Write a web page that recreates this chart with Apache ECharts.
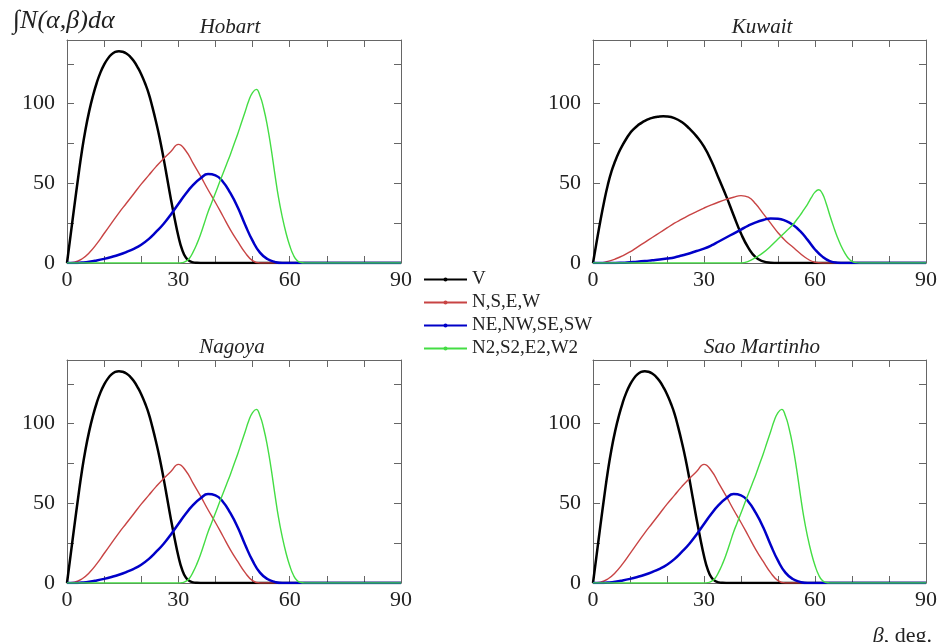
<!DOCTYPE html>
<html>
<head>
<meta charset="utf-8">
<script src="https://cdn.jsdelivr.net/npm/echarts@6/dist/echarts.min.js"></script>
<style>
  html, body { margin: 0; padding: 0; background: #ffffff; }
  #chart { width: 940px; height: 642px; }
</style>
</head>
<body>
<div id="chart"></div>
<script>
// Integrated distribution over beta (degrees), pairs of [beta, value]
const hobartV = [[0,0],[1,18],[2,36],[3,53.5],[4,70],[5,84],[6,95.5],[7,105],[8,113],[9,119.5],[10,124.5],[11,128.3],[12,131],[13,132.5],[14,133],[15,132.6],[16,131.5],[17,129.6],[18,126.8],[19,123],[20,118.5],[21,113],[22,106.5],[23,98],[24,88.5],[25,78],[26,66],[27,53],[28,40],[29,28],[30,17],[31,8.5],[32,3.5],[33,1.3],[34,0.4],[35,0.1],[36,0],[37,0],[90,0]];
const hobartNSEW = [[0,0],[2,0.5],[4,2.5],[6,6.5],[8,12],[10,18.5],[12,25],[14,31.5],[16,37.5],[18,43.5],[20,49.5],[22,55],[24,60.5],[26,65.5],[28,70],[30,74.5],[32,70.5],[34,62.5],[36,54.5],[38,46],[40,38],[42,29.5],[44,21],[46,13.5],[48,6.5],[50,1.5],[52,0],[54,0],[90,0]];
const hobartDiag = [[0,0],[2,0],[4,0.3],[6,0.8],[8,1.6],[10,2.6],[12,3.8],[14,5.2],[16,6.9],[18,8.9],[20,11.5],[22,15],[24,19.5],[26,24.5],[28,30.5],[30,37],[32,43.5],[34,49],[36,53.2],[38,55.8],[40,55],[42,51],[44,44],[46,35],[48,24],[50,14],[52,6.5],[54,2.5],[56,0.7],[58,0],[60,0],[90,0]];
const hobartN2 = [[0,0],[30,0],[31,0.2],[32,1],[33,3],[34,7],[35,12],[36,18],[37,25],[38,32],[39,38],[40,44],[41,50],[42,56],[43,62],[44,68],[45,74.5],[46,81],[47,88],[48,95],[49,102],[50,107],[51,109],[52,105],[53,97],[54,86],[55,72],[56,56],[57,41],[58,29],[59,19],[60,11],[61,5],[62,1.5],[63,0.3],[64,0],[66,0],[90,0]];

const kuwaitV = [[0,0],[1,13.5],[2,26.5],[3,38.5],[4,49],[5,57.5],[6,64],[7,69.5],[8,74],[9,78],[10,81.5],[11,84],[12,86.2],[13,87.8],[14,89.2],[15,90.3],[16,91.1],[17,91.6],[18,92],[19,92.1],[20,92],[22,91],[24,88.5],[26,84.5],[28,79.5],[30,73],[32,64],[34,53],[36,42],[38,30],[40,18.5],[42,9.5],[44,3.5],[46,1],[48,0.2],[50,0],[52,0],[90,0]];
const kuwaitNSEW = [[0,0],[2,0],[4,1],[6,2.5],[8,4.5],[10,7],[12,10],[14,13],[16,16],[18,19],[20,22],[22,25],[24,27.5],[26,30],[28,32.3],[30,34.5],[32,36.5],[34,38.3],[36,39.9],[38,41.3],[40,42.3],[42,41.3],[44,37],[46,31],[48,25],[50,19],[52,14],[54,10],[56,6],[58,2.5],[60,0.5],[62,0],[64,0],[90,0]];
const kuwaitDiag = [[0,0],[6,0],[8,0.2],[10,0.5],[12,0.8],[14,1.2],[16,1.7],[18,2.2],[20,2.8],[22,3.5],[24,4.7],[26,6],[28,7.5],[30,9],[32,11],[34,13.5],[36,16],[38,18.5],[40,21],[42,23.5],[44,25.5],[46,27],[48,28],[50,27.8],[52,26.5],[54,24],[56,20],[58,14.5],[60,8.5],[62,4],[64,1.2],[66,0.2],[68,0],[70,0],[90,0]];
const kuwaitN2 = [[0,0],[40,0],[42,1],[44,3.5],[46,6.5],[48,10.5],[50,15],[52,19.5],[54,24],[55,27],[56,30],[57,33.5],[58,37],[59,41],[60,44.5],[61,46],[62,43.5],[63,37.5],[64,30],[65,23],[66,16.5],[67,11],[68,6.5],[69,3],[70,1],[71,0.2],[72,0],[74,0],[90,0]];

const seriesNames = ['V', 'N,S,E,W', 'NE,NW,SE,SW', 'N2,S2,E2,W2'];
const siteNames = ['Hobart', 'Kuwait', 'Nagoya', 'Sao Martinho'];
// Hobart, Nagoya and Sao Martinho share the same distribution
const siteData = [
  [hobartV, hobartNSEW, hobartDiag, hobartN2],
  [kuwaitV, kuwaitNSEW, kuwaitDiag, kuwaitN2],
  [hobartV, hobartNSEW, hobartDiag, hobartN2],
  [hobartV, hobartNSEW, hobartDiag, hobartN2]
];
const xTicks = [0, 30, 60, 90];
const yTicks = [0, 50, 100];

// styling
const lineColors = ['#000000', '#c84444', '#0000c8', '#44dd44'];
const lineWidths = [2.5, 1.4, 2.5, 1.4];
const lineDots = ['none', 'circle', 'none', 'circle'];
const boxes = [
  { left: 67,  top: 40,  width: 334, height: 223, titleX: 225 },
  { left: 593, top: 40,  width: 335, height: 223, titleX: 757 },
  { left: 67,  top: 360, width: 334, height: 223, titleX: 227 },
  { left: 593, top: 360, width: 335, height: 223, titleX: 757 }
];
const serif = 'Liberation Serif';
const frame = '#666666';
const ink = '#222222';

const grid = [], xAxis = [], yAxis = [], series = [], title = [];

boxes.forEach((b, i) => {
  grid.push({ left: b.left, top: b.top, width: b.width, height: b.height, containLabel: false });
  const tick = { show: true, inside: true, length: 7, lineStyle: { color: frame, width: 1 } };
  const line = { show: true, onZero: false, lineStyle: { color: frame, width: 1 } };
  const xBase = { type: 'value', gridIndex: i, min: 0, max: 90, interval: 10,
    axisLine: line, axisTick: tick, splitLine: { show: false } };
  const yBase = { type: 'value', gridIndex: i, min: 0, max: 140, interval: 25,
    axisLine: line, axisTick: tick, splitLine: { show: false } };
  xAxis.push(Object.assign({}, xBase, { position: 'bottom',
    axisLabel: { show: true, margin: 6, fontFamily: serif, fontSize: 22, color: ink,
      formatter: v => xTicks.includes(v) ? String(v) : '' } }));
  xAxis.push(Object.assign({}, xBase, { position: 'top', axisLabel: { show: false } }));
  yAxis.push(Object.assign({}, yBase, { position: 'left',
    axisLabel: { show: true, margin: 12, fontFamily: serif, fontSize: 22, color: ink,
      formatter: v => yTicks.includes(v) ? String(v) : '' } }));
  yAxis.push(Object.assign({}, yBase, { position: 'right', axisLabel: { show: false } }));

  siteData[i].forEach((pts, k) => {
    series.push({
      name: seriesNames[k], type: 'line',
      xAxisIndex: 2 * i, yAxisIndex: 2 * i,
      data: pts, smooth: 0.5,
      symbol: lineDots[k], symbolSize: 4, showSymbol: false,
      lineStyle: { color: lineColors[k], width: lineWidths[k] },
      itemStyle: { color: lineColors[k] },
      emphasis: { disabled: true }, silent: true
    });
  });

  title.push({
    text: siteNames[i], left: b.titleX, top: b.top - 28, textAlign: 'center',
    textStyle: { fontFamily: serif, fontStyle: 'italic', fontWeight: 'normal', fontSize: 21, color: ink }
  });
});

title.push({
  text: '∫N(α,β)dα', left: 8, top: 3,
  textStyle: { fontFamily: serif, fontStyle: 'italic', fontWeight: 'normal', fontSize: 26, color: ink }
});
title.push({
  text: '{i|β}{n|, deg.}', right: 3, top: 620,
  textStyle: { rich: {
    i: { fontFamily: serif, fontStyle: 'italic', fontWeight: 'normal', fontSize: 22, color: ink },
    n: { fontFamily: serif, fontWeight: 'normal', fontSize: 22, color: ink }
  } }
});

const chart = echarts.init(document.getElementById('chart'), null, { renderer: 'canvas' });
chart.setOption({
  backgroundColor: '#ffffff',
  animation: false,
  title, grid, xAxis, yAxis, series,
  legend: {
    data: seriesNames, orient: 'vertical', left: 418, top: 265, padding: 5,
    itemWidth: 43, itemHeight: 5, itemGap: 4, selectedMode: false,
    textStyle: { fontFamily: serif, fontSize: 19, color: ink, lineHeight: 19 }
  }
});
</script>
</body>
</html>
